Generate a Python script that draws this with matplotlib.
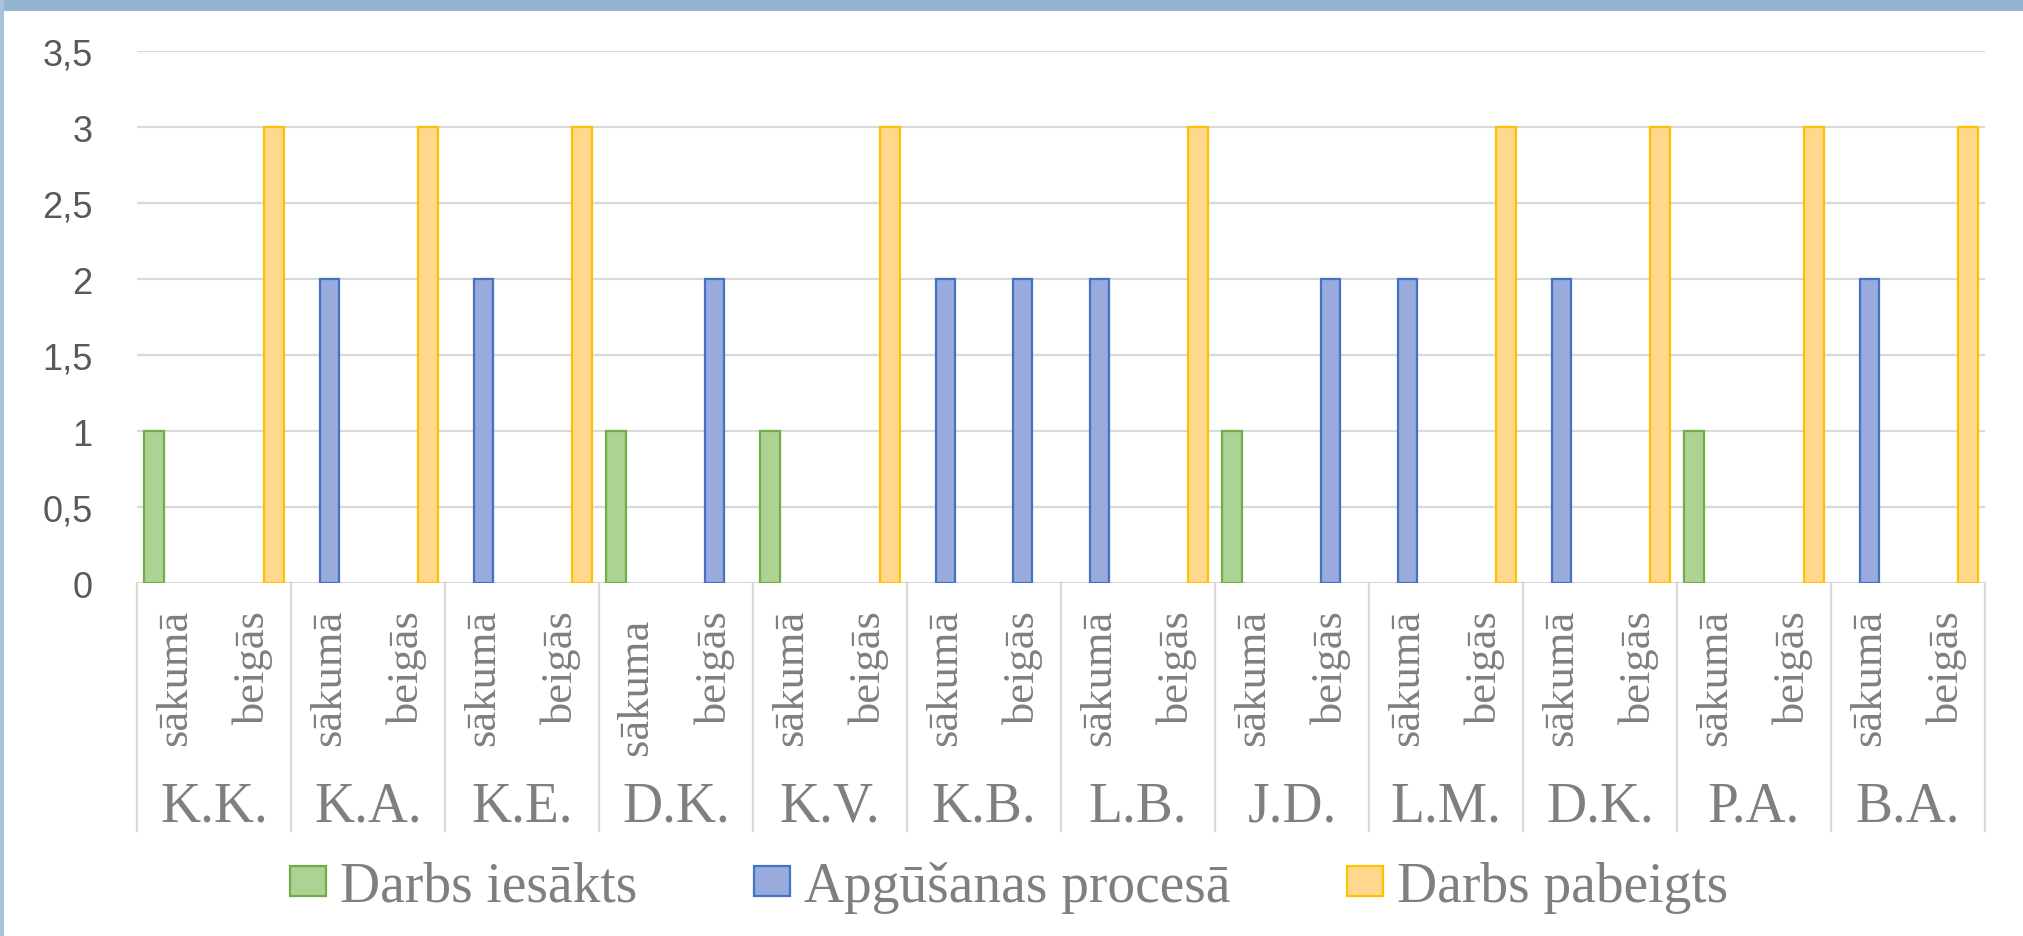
import numpy as np
import matplotlib.pyplot as plt
import matplotlib.transforms as mtransforms
from matplotlib.patches import Rectangle

students = ["K.K.", "K.A.", "K.E.", "D.K.", "K.V.", "K.B.", "L.B.", "J.D.", "L.M.", "D.K.", "P.A.", "B.A."]
stages = [["sākumā", "beigās"], ["sākumā", "beigās"], ["sākumā", "beigās"], ["sākuma ", "beigās"],
          ["sākumā", "beigās"], ["sākumā", "beigās"], ["sākumā", "beigās"], ["sākumā", "beigās"],
          ["sākumā", "beigās"], ["sākumā", "beigās"], ["sākumā", "beigās"], ["sākumā", "beigās"]]

# one value per (student, stage), 0 = no bar
iesakts = [1, 0,  0, 0,  0, 0,  1, 0,  1, 0,  0, 0,  0, 0,  1, 0,  0, 0,  0, 0,  1, 0,  0, 0]
procesa = [0, 0,  2, 0,  2, 0,  0, 2,  0, 0,  2, 2,  2, 0,  0, 2,  2, 0,  2, 0,  0, 0,  2, 0]
pabeigts = [0, 3,  0, 3,  0, 3,  0, 0,  0, 3,  0, 0,  0, 3,  0, 0,  0, 3,  0, 3,  0, 3,  0, 3]

series_names = ["Darbs iesākts", "Apgūšanas procesā", "Darbs pabeigts"]
yticks = [0, 0.5, 1, 1.5, 2, 2.5, 3, 3.5]
ytick_labels = ["0", "0,5", "1", "1,5", "2", "2,5", "3", "3,5"]

fills = ["#ADD394", "#98ABDC", "#FFD88E"]
edges = ["#70AD47", "#4472C4", "#FFC000"]
grey_txt = "#7F7F7F"
grid_col = "#D9D9D9"

fig = plt.figure(figsize=(20.24, 9.37), dpi=100)
fig.patch.set_facecolor("white")
ax = fig.add_axes([0.0677, 0.3767, 0.913, 0.5678])

x = np.arange(len(iesakts))
w = 0.25
off = 0.28
handles = []
for vals, dx, fc, ec, name in zip([iesakts, procesa, pabeigts], [-off, 0, off], fills, edges, series_names):
    v = np.array(vals, dtype=float)
    m = v > 0
    b = ax.bar(x[m] + dx, v[m], width=w, color=fc, edgecolor=ec, linewidth=1.6, zorder=3, label=name)
    handles.append(b)

ax.set_xlim(-0.5, len(x) - 0.5)
ax.set_ylim(0, 3.5)
ax.set_yticks(yticks)
ax.set_yticklabels(ytick_labels, fontsize=26, color="#595959", family="Liberation Sans")
ax.tick_params(axis="y", length=0, pad=32)
ax.set_xticks([])
for s in ax.spines.values():
    s.set_visible(False)
ax.yaxis.grid(True, color=grid_col, linewidth=1.6, zorder=0)
ax.set_axisbelow(True)

trans = mtransforms.blended_transform_factory(ax.transData, ax.transAxes)
for i in range(len(students)):
    for j in range(2):
        ax.text(2 * i + j, -0.049, stages[i][j], rotation=90, ha="center", va="top",
                fontsize=32, color=grey_txt, family="Liberation Serif", transform=trans)
    ax.text(2 * i + 0.5, -0.447, students[i], ha="center", va="baseline",
            fontsize=40, color=grey_txt, family="Liberation Serif", transform=trans)
for k in range(len(students) + 1):
    ax.plot([2 * k - 0.5, 2 * k - 0.5], [0, -0.466], color=grid_col, linewidth=1.6,
            transform=trans, clip_on=False)

fig.legend(handles=handles, labels=series_names, loc="center", bbox_to_anchor=(0.4985, 1 - 888 / 937),
           ncol=3, frameon=False, prop={"family": "Liberation Serif", "size": 40},
           labelcolor=grey_txt, handlelength=0.65, handleheight=0.45, handletextpad=0.25,
           columnspacing=2.1)

# frame band on top and left
fig.add_artist(Rectangle((0, 1 - 12 / 937), 1, 12 / 937, transform=fig.transFigure, color="#94B4D2", lw=0))
fig.add_artist(Rectangle((0, 0), 4 / 2024, 1, transform=fig.transFigure, color="#A6C2DC", lw=0))

plt.savefig("out.png", dpi=100)
